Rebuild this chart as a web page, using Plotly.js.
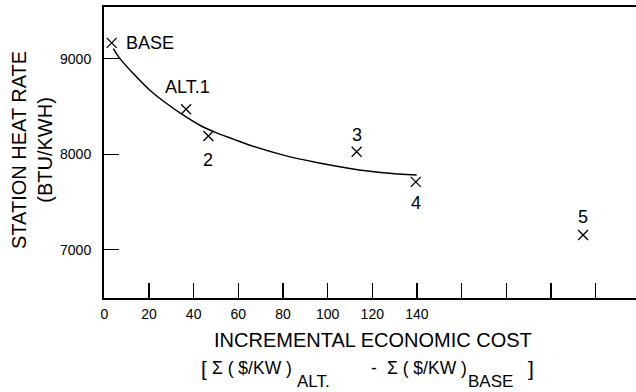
<!DOCTYPE html>
<html><head><meta charset="utf-8">
<script src="https://cdn.plot.ly/plotly-3.0.1.min.js"></script>
<style>html,body{margin:0;padding:0;background:#fff}#chart{width:636px;height:392px}</style>
</head><body><div id="chart"></div><script>
const pointNames = ['BASE', 'ALT.1', '2', '3', '4', '5'];
const pointCost = [3.3, 36.6, 46.6, 113, 139.5, 214.4];
const pointHeatRate = [9165, 8470, 8190, 8025, 7710, 7155];
const curveCost = [4, 7, 13, 20.4, 27.9, 35.4, 42.8, 50.3, 57.8, 65.2, 80.2, 95.1, 110, 125, 139.9];
const curveHeatRate = [9105, 9000, 8843, 8669, 8530, 8408, 8303, 8223, 8157, 8094, 7990, 7913, 7851, 7805, 7781];
const xTickVals = [0, 20, 40, 60, 80, 100, 120, 140];
const xTickText = ['0', '20', '40', '60', '80', '100', '120', '140'];
const xUnlabeledTickVals = [160, 180, 200, 220];
const yTickVals = [7000, 8000, 9000];
const yTickText = ['7000', '8000', '9000'];
const xTitle = 'INCREMENTAL ECONOMIC COST';
const xSubTitleParts = ['[', '\u03A3 ( $/KW )', 'ALT.', '-', '\u03A3 ( $/KW )', 'BASE', ']'];
const yTitle = 'STATION HEAT RATE<br>(BTU/KWH)';

// label placement style (pixel offsets from each point)
const labelStyle = [
  {xshift: 12, yshift: 0, xanchor: 'left'},
  {xshift: 1, yshift: 22, xanchor: 'center'},
  {xshift: 0, yshift: -24, xanchor: 'center'},
  {xshift: 0, yshift: 17, xanchor: 'center'},
  {xshift: 0, yshift: -21, xanchor: 'center'},
  {xshift: 0, yshift: 18, xanchor: 'center'}
];
// pixel placement of the pieces of the second x-title line (left edge, centre y below axis, size)
const subTitleStyle = [
  {left: 200, down: 70, size: 21},
  {left: 211, down: 70, size: 17.5},
  {left: 296, down: 83, size: 17},
  {left: 370, down: 70, size: 17.5},
  {left: 386, down: 70, size: 17.5},
  {left: 467, down: 83, size: 17},
  {left: 527, down: 70, size: 21}
];
const PLOT_LEFT = 104;

const FONT = 'Liberation Sans, Arial, Helvetica, sans-serif';

const traces = [
  {x: curveCost, y: curveHeatRate, mode: 'lines', line: {color: '#000', width: 1.5, shape: 'spline'}, hoverinfo: 'skip'},
  {x: pointCost, y: pointHeatRate, mode: 'markers',
   marker: {symbol: 'x-thin', size: 10, color: '#000', line: {color: '#000', width: 1.3}}}
];

const annotations = pointNames.map((t, i) => ({
  x: pointCost[i], y: pointHeatRate[i], xref: 'x', yref: 'y', text: t, showarrow: false,
  xanchor: labelStyle[i].xanchor, yanchor: 'middle',
  xshift: labelStyle[i].xshift, yshift: labelStyle[i].yshift,
  font: {family: FONT, size: 18, color: '#000'}
}));
annotations.push(
  {xref: 'paper', yref: 'paper', x: 0.5, y: 0, xshift: 3, yshift: -42, text: xTitle, showarrow: false,
   xanchor: 'center', yanchor: 'middle', font: {family: FONT, size: 20, color: '#000'}},
  {xref: 'paper', yref: 'paper', x: 0, y: 0.5, xshift: -72.5, yshift: 2, text: yTitle, showarrow: false,
   textangle: -90, xanchor: 'center', yanchor: 'middle', font: {family: FONT, size: 20, color: '#000'}}
);
xSubTitleParts.forEach((t, i) => {
  annotations.push({xref: 'paper', yref: 'paper', x: 0, y: 0, xshift: subTitleStyle[i].left - PLOT_LEFT,
    yshift: -subTitleStyle[i].down, text: t, showarrow: false, xanchor: 'left', yanchor: 'middle',
    borderpad: 0,
    font: {family: FONT, size: subTitleStyle[i].size, color: '#000'}});
});

const layout = {
  width: 636, height: 392,
  margin: {l: PLOT_LEFT, r: 0, t: 7, b: 94},
  paper_bgcolor: '#fff', plot_bgcolor: '#fff',
  showlegend: false,
  font: {family: FONT, color: '#000'},
  xaxis: {
    range: [-0.15, 238.1], showgrid: false, zeroline: false,
    showline: true, linewidth: 2, linecolor: '#000', mirror: true,
    ticks: 'inside', ticklen: 15, tickwidth: 1.3, tickcolor: '#000',
    tickmode: 'array', tickvals: xTickVals, ticktext: xTickText, ticklabelstandoff: 2,
    tickfont: {family: FONT, size: 14, color: '#000'},
    minor: {tickmode: 'array', tickvals: xUnlabeledTickVals, ticks: 'inside', ticklen: 15, tickwidth: 1.3, tickcolor: '#000', showgrid: false}
  },
  yaxis: {
    range: [6495, 9540], showgrid: false, zeroline: false,
    showline: true, linewidth: 2, linecolor: '#000',
    ticks: 'inside', ticklen: 15, tickwidth: 1.3, tickcolor: '#000',
    tickvals: yTickVals, ticktext: yTickText, ticklabelstandoff: 8,
    tickfont: {family: FONT, size: 14, color: '#000'}
  },
  annotations: annotations
};

Plotly.newPlot('chart', traces, layout, {staticPlot: true, displayModeBar: false});
</script></body></html>
